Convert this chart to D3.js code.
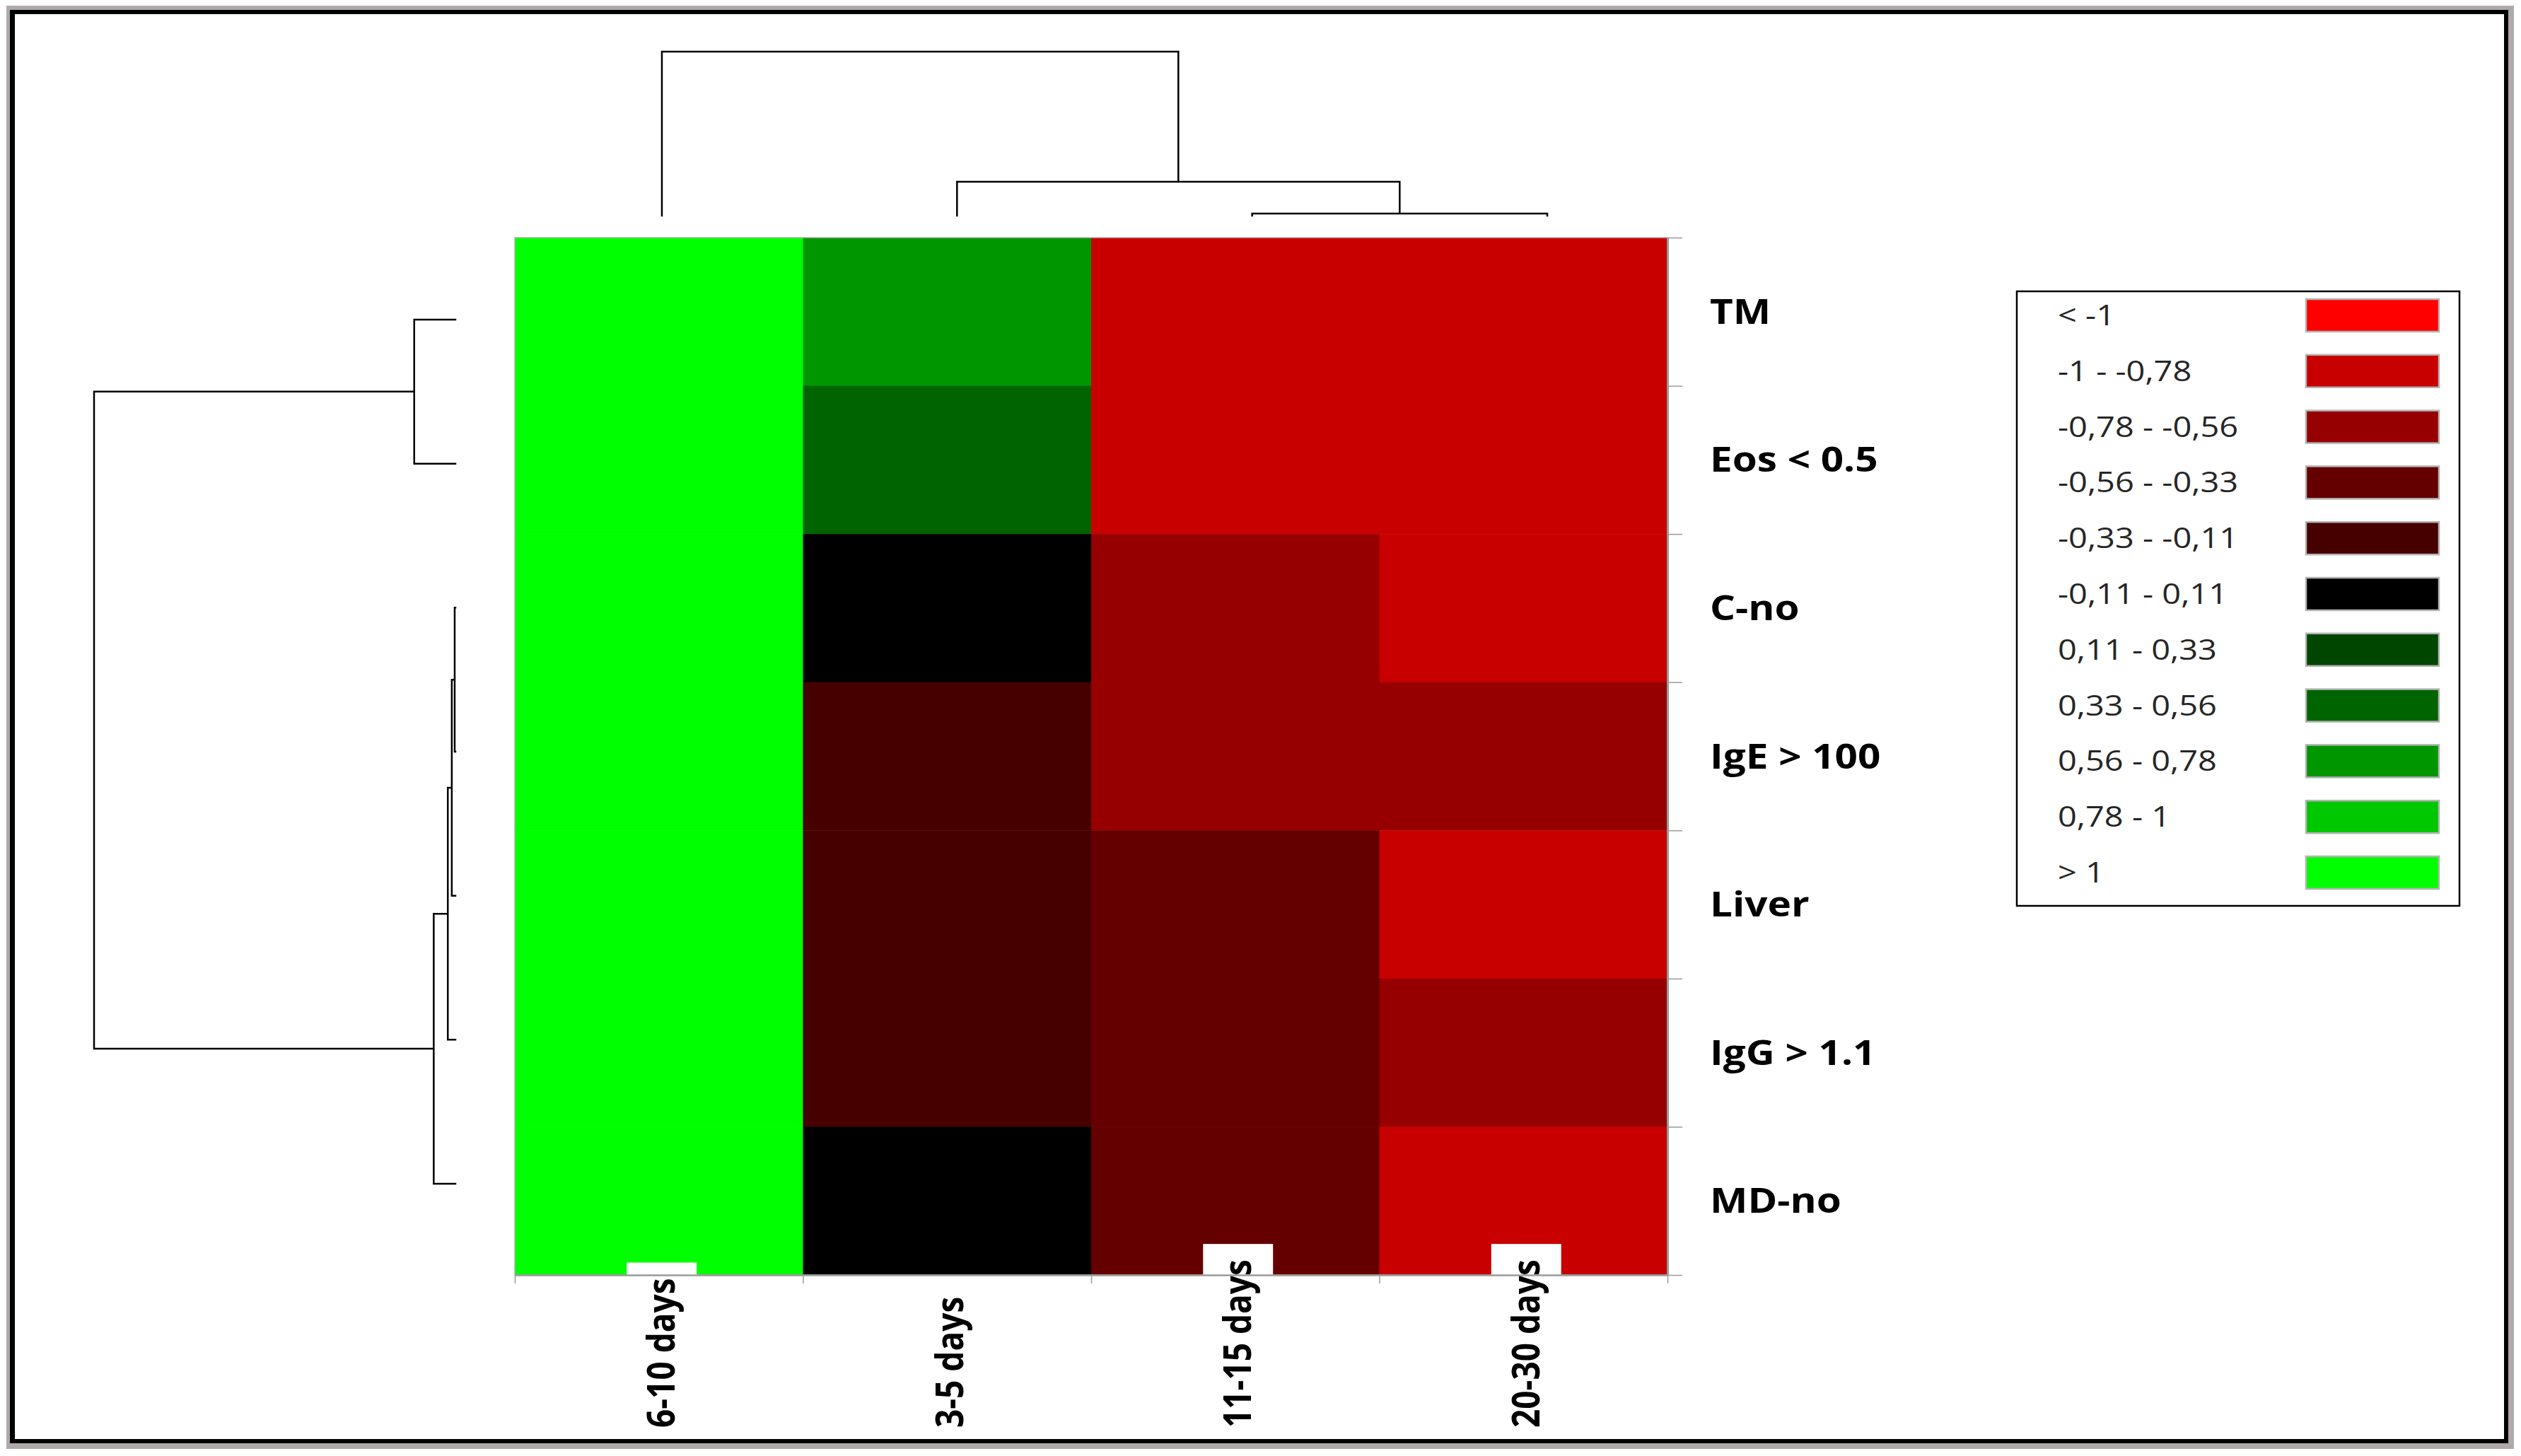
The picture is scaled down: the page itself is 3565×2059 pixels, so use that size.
<!DOCTYPE html>
<html>
<head>
<meta charset="utf-8">
<script src="https://cdn.jsdelivr.net/npm/d3@7"></script>
<style>
  html, body { margin: 0; padding: 0; background: #fff; }
  svg { display: block; }
</style>
</head>
<body>
<svg id="chart" width="3565" height="2059"></svg>
<script>
// ---------- DATA ----------
const columns = ["6-10 days", "3-5 days", "11-15 days", "20-30 days"];
const rows = ["TM", "Eos < 0.5", "C-no", "IgE > 100", "Liver", "IgG > 1.1", "MD-no"];

// one array per row, values in column order
const valTM    = [1.50,  0.65, -0.90, -0.90];
const valEos   = [1.40,  0.45, -0.88, -0.92];
const valCno   = [1.30,  0.00, -0.65, -0.85];
const valIgE   = [1.35, -0.20, -0.62, -0.60];
const valLiver = [1.30, -0.25, -0.45, -0.90];
const valIgG   = [1.20, -0.22, -0.40, -0.70];
const valMDno  = [1.25,  0.05, -0.45, -0.95];
const values = [valTM, valEos, valCno, valIgE, valLiver, valIgG, valMDno];

const binEdges = [-1, -0.78, -0.56, -0.33, -0.11, 0.11, 0.33, 0.56, 0.78, 1];
const binColors = ["#ff0000", "#c80000", "#960000", "#640000", "#460000", "#000000",
                   "#004600", "#006400", "#009600", "#00c800", "#00ff00"];
const legendLabels = ["< -1", "-1 - -0,78", "-0,78 - -0,56", "-0,56 - -0,33", "-0,33 - -0,11",
                      "-0,11 - 0,11", "0,11 - 0,33", "0,33 - 0,56", "0,56 - 0,78", "0,78 - 1", "> 1"];

// dendrogram merges: [child A, child B, name, height (relative)]
const colMerges = [
  ["11-15 days", "20-30 days", "c1", 0.013],
  ["3-5 days", "c1", "c2", 0.207],
  ["6-10 days", "c2", "c3", 1.0]
];
const rowMerges = [
  ["C-no", "IgE > 100", "r1", 0.002],
  ["r1", "Liver", "r2", 0.010],
  ["r2", "IgG > 1.1", "r3", 0.021],
  ["r3", "MD-no", "r4", 0.060],
  ["TM", "Eos < 0.5", "r5", 0.114],
  ["r5", "r4", "r6", 1.0]
];

// ---------- LAYOUT ----------
const svg = d3.select("#chart");
const hm = {x0: 728, x1: 2358, y0: 336, y1: 1803};

// frame
svg.append("rect").attr("x", 9).attr("y", 8).attr("width", 3555 - 9).attr("height", 2049 - 8).attr("fill", "#afaaa9");
svg.append("rect").attr("x", 14).attr("y", 14).attr("width", 3547 - 14).attr("height", 2041 - 14).attr("fill", "#000");
svg.append("rect").attr("x", 21).attr("y", 20).attr("width", 3541 - 21).attr("height", 2035 - 20).attr("fill", "#fff");

const x = d3.scaleBand().domain(columns).range([hm.x0, hm.x1]);
const y = d3.scaleBand().domain(rows).range([hm.y0, hm.y1]);
const color = d3.scaleThreshold().domain(binEdges).range(binColors);

// ---------- HEATMAP ----------
const cells = [];
rows.forEach((r, i) => columns.forEach((c, j) => cells.push({r, c, v: values[i][j]})));
svg.append("g").selectAll("rect").data(cells).join("rect")
  .attr("x", d => x(d.c)).attr("y", d => y(d.r))
  .attr("width", x.bandwidth() + 0.5).attr("height", y.bandwidth() + 0.5)
  .attr("fill", d => color(d.v));

svg.append("rect").attr("x", hm.x0).attr("y", hm.y0)
  .attr("width", hm.x1 - hm.x0).attr("height", hm.y1 - hm.y0)
  .attr("fill", "none").attr("stroke", "#b0b0b0").attr("stroke-width", 1.5);

// ---------- COLUMN LABELS (with white backgrounds) ----------
const labelBottom = 2019;
const colLab = svg.append("g");
columns.forEach(c => {
  const g = colLab.append("g")
    .attr("transform", `translate(${x(c) + x.bandwidth() / 2 + 4},${labelBottom}) rotate(-90) scale(1,1.15)`);
  const bg = g.append("rect").attr("fill", "#fff");
  const t = g.append("text")
    .attr("x", 0).attr("y", 16)
    .attr("font-family", "'Open Sans', sans-serif").attr("font-weight", "bold")
    .attr("font-size", 46).attr("fill", "#000")
    .text(c);
  const len = t.node().getComputedTextLength();
  bg.attr("x", -4).attr("y", -43).attr("width", len + 26).attr("height", 86);
});

// ---------- AXES ----------
const rowIdx = d3.scaleLinear().domain([0, rows.length]).range([hm.y0, hm.y1]);
const colIdx = d3.scaleLinear().domain([0, columns.length]).range([hm.x0, hm.x1]);

const axR = svg.append("g").attr("transform", `translate(${hm.x1},0)`)
  .call(d3.axisRight(rowIdx).tickValues(d3.range(rows.length + 1)).tickFormat("").tickSize(21).tickSizeOuter(0));
axR.select(".domain").attr("stroke", "#9a9a9a").attr("stroke-width", 3);
axR.selectAll(".tick line").attr("stroke", "#9a9a9a").attr("stroke-width", 1.5);

const axB = svg.append("g").attr("transform", `translate(0,${hm.y1})`)
  .call(d3.axisBottom(colIdx).tickValues(d3.range(columns.length + 1)).tickFormat("").tickSize(12).tickSizeOuter(0));
axB.select(".domain").attr("stroke", "#9a9a9a").attr("stroke-width", 2.5);
axB.selectAll(".tick line").attr("stroke", "#9a9a9a").attr("stroke-width", 1.5);

// ---------- ROW LABELS ----------
svg.append("g").selectAll("text").data(rows).join("text")
  .attr("transform", d => `translate(2418,${y(d) + y.bandwidth() / 2 + 17}) scale(1.18,1)`)
  .attr("font-family", "'Open Sans', sans-serif").attr("font-weight", "bold")
  .attr("font-size", 48).attr("fill", "#000")
  .text(d => d);

// ---------- DENDROGRAMS ----------
function drawDendro(merges, leafPos, hScale, orient) {
  const pos = {}, hgt = {};
  Object.keys(leafPos).forEach(k => { pos[k] = leafPos[k]; hgt[k] = 0; });
  const path = d3.path();
  merges.forEach(([a, b, name, h]) => {
    const pa = pos[a], pb = pos[b];
    const ha = hScale(hgt[a]), hb = hScale(hgt[b]), hn = hScale(h);
    if (orient === "top") {
      path.moveTo(pa, ha); path.lineTo(pa, hn); path.lineTo(pb, hn); path.lineTo(pb, hb);
    } else {
      path.moveTo(ha, pa); path.lineTo(hn, pa); path.lineTo(hn, pb); path.lineTo(hb, pb);
    }
    pos[name] = (pa + pb) / 2; hgt[name] = h;
  });
  svg.append("path").attr("d", path.toString())
    .attr("fill", "none").attr("stroke", "#000").attr("stroke-width", 2.5)
    .attr("stroke-linejoin", "miter").attr("stroke-linecap", "square");
}

const colLeaf = d3.scalePoint().domain(columns).range([936, 2188]);
const colLeafPos = {}; columns.forEach(c => colLeafPos[c] = colLeaf(c));
drawDendro(colMerges, colLeafPos, d3.scaleLinear().domain([0, 1]).range([305, 73]), "top");

const rowLeaf = d3.scalePoint().domain(rows).range([452, 1674]);
const rowLeafPos = {}; rows.forEach(r => rowLeafPos[r] = rowLeaf(r));
drawDendro(rowMerges, rowLeafPos, d3.scaleLinear().domain([0, 1]).range([644, 133]), "left");

// ---------- LEGEND ----------
const leg = svg.append("g");
leg.append("rect").attr("x", 2852).attr("y", 412).attr("width", 3478 - 2852).attr("height", 1281 - 412)
  .attr("fill", "#fff").attr("stroke", "#000").attr("stroke-width", 2.5);
const legY = d3.scalePoint().domain(legendLabels).range([446, 1234]);
legendLabels.forEach((lab, i) => {
  leg.append("rect").attr("x", 3261).attr("y", legY(lab) - 23).attr("width", 188).attr("height", 46)
    .attr("fill", binColors[i]).attr("stroke", "#b4b4b4").attr("stroke-width", 2.5);
  leg.append("text")
    .attr("transform", `translate(2910,${legY(lab) + 14}) scale(1.16,1)`)
    .attr("font-family", "'Open Sans', sans-serif").attr("font-size", 40.5).attr("fill", "#262626")
    .text(lab);
});
</script>
</body>
</html>
